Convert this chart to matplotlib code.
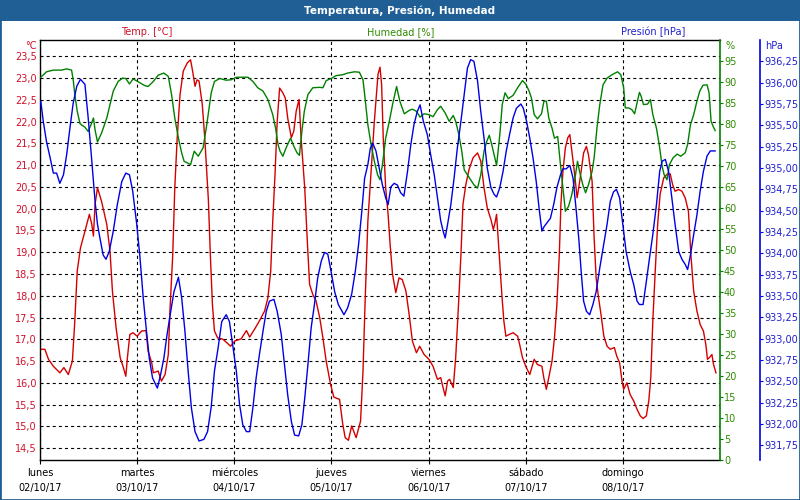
import matplotlib
matplotlib.use("Agg")
import matplotlib.pyplot as plt
from matplotlib.patches import Rectangle
from matplotlib.ticker import FixedLocator, FuncFormatter

# ---------------- data ----------------
day_names = ["lunes", "martes", "miércoles", "jueves", "viernes", "sábado", "domingo"]
day_dates = ["02/10/17", "03/10/17", "04/10/17", "05/10/17", "06/10/17", "07/10/17", "08/10/17"]

temp_hours = [0.4,1.2,2.1,3.3,4.9,5.9,7.0,8.0,8.6,9.2,10.0,11.1,12.2,12.8,13.2,13.6,14.2,15.2,16.5,17.3,17.9,18.8,19.8,20.6,21.2,21.6,22.2,23.0,24.0,25.1,26.2,26.7,27.6,28.0,29.2,30.0,30.9,31.7,32.1,32.8,33.3,33.9,34.6,35.4,36.4,37.2,37.7,38.3,38.8,39.3,40.1,40.7,41.6,42.1,42.6,43.1,43.9,45.2,47.1,48.1,49.7,51.0,51.8,53.0,54.2,55.5,56.3,57.0,57.5,58.1,58.6,59.2,60.0,60.6,61.2,62.1,62.7,63.3,64.0,64.5,65.4,66.0,66.6,67.4,68.2,69.1,69.9,70.7,71.8,72.6,74.0,74.8,75.4,76.2,77.0,78.1,79.2,79.8,80.3,81.0,81.8,82.6,83.5,84.0,84.4,84.8,85.4,86.0,86.5,87.1,87.9,88.7,89.5,90.4,91.2,92.0,93.0,93.8,94.9,96.1,97.1,98.2,99.0,99.4,100.1,100.7,101.2,102.1,102.7,103.4,104.0,104.5,105.2,106.0,107.0,108.1,108.9,109.7,110.5,111.4,112.0,112.4,112.8,113.4,114.1,114.6,115.1,115.9,116.9,118.0,118.5,119.2,120.0,121.0,121.5,122.1,122.9,124.0,124.5,125.1,125.7,126.5,127.1,127.7,128.3,128.7,129.2,129.8,130.4,130.9,131.4,132.0,132.7,133.1,133.7,134.3,135.0,135.5,136.4,136.9,137.4,138.0,138.6,139.3,140.1,140.9,141.9,142.5,143.2,143.8,144.2,145.0,145.8,146.7,147.5,148.3,149.0,149.8,150.4,150.9,151.4,152.0,152.6,153.2,154.1,154.9,155.7,156.3,156.9,157.8,158.6,159.4,160.2,160.8,161.5,162.3,163.1,163.9,164.5,164.9,165.4,166.0,166.4,167.0]
temp_values = [16.77,16.77,16.54,16.38,16.23,16.35,16.19,16.5,17.42,18.57,19.1,19.48,19.87,19.64,19.37,20.1,20.48,20.17,19.64,19.02,18.1,17.26,16.58,16.35,16.15,16.58,17.11,17.15,17.07,17.19,17.2,16.73,16.46,16.23,16.27,16.04,16.19,16.65,17.65,18.95,20.48,21.63,22.62,23.16,23.35,23.42,23.16,22.81,22.96,22.93,22.39,21.63,20.2,18.9,17.8,17.19,17.03,17.0,16.84,16.96,17.01,17.2,17.05,17.23,17.42,17.65,17.95,18.57,19.71,20.86,22.0,22.77,22.66,22.54,22.08,21.63,21.78,22.24,22.51,21.63,20.48,19.33,18.26,18.03,17.88,17.5,17.03,16.5,15.96,15.67,15.62,15.05,14.74,14.68,15.01,14.74,15.12,16.27,17.8,19.71,20.86,22.0,23.08,23.25,22.85,21.63,20.48,19.87,19.18,18.49,18.07,18.41,18.37,18.11,17.57,16.96,16.69,16.84,16.65,16.54,16.38,16.08,16.12,15.96,15.7,16.04,16.08,15.89,16.58,17.8,18.95,20.1,20.55,20.9,21.17,21.28,21.09,20.48,20.02,19.75,19.52,19.67,19.87,19.02,18.03,17.42,17.07,17.11,17.15,17.07,16.88,16.58,16.38,16.19,16.35,16.54,16.42,16.38,16.1,15.85,16.12,16.5,17.03,17.8,18.95,20.1,20.86,21.4,21.63,21.7,21.32,20.86,20.25,20.48,20.86,21.28,21.43,21.24,20.63,19.33,18.41,17.95,17.57,17.07,16.84,16.77,16.81,16.61,16.46,16.04,15.85,16.0,15.73,15.58,15.39,15.24,15.18,15.24,15.58,16.12,17.42,18.57,19.64,20.33,20.71,20.79,20.8,20.55,20.4,20.44,20.4,20.25,19.94,18.95,18.1,17.65,17.34,17.19,16.88,16.54,16.58,16.65,16.42,16.23]

hum_hours = [0.2,1.6,3.3,5.3,6.6,7.8,8.2,8.6,9.2,9.9,11.1,11.9,12.6,13.2,13.6,14.2,15.2,16.5,17.3,18.1,19.3,20.4,21.2,22.1,23.0,24.3,25.9,26.7,28.0,29.2,30.6,31.7,32.5,33.3,34.2,35.0,35.6,37.2,38.1,39.1,40.3,41.2,42.3,43.1,44.4,46.0,47.2,48.5,51.4,52.6,53.8,55.1,56.3,57.5,58.2,58.8,59.3,60.0,60.8,61.9,62.7,63.5,64.1,64.7,65.3,66.2,67.4,69.1,69.9,70.7,71.9,73.2,74.8,76.0,77.7,78.9,79.8,80.3,81.0,81.8,82.6,83.4,84.0,84.6,85.4,86.3,87.1,88.1,88.9,90.0,91.2,92.0,93.0,93.9,94.9,96.1,97.1,98.2,99.0,100.1,101.1,102.1,102.7,103.5,104.2,104.8,105.3,106.4,107.2,108.1,108.9,109.7,110.4,111.0,111.8,112.8,113.6,114.2,114.9,115.7,116.9,118.0,119.2,120.0,120.8,121.4,122.1,122.9,123.9,124.5,125.1,125.7,126.5,127.1,127.9,128.5,129.2,129.8,130.6,131.4,132.3,132.8,133.3,134.1,134.8,135.5,136.4,136.9,137.6,138.3,139.1,140.1,141.3,142.7,143.5,144.2,144.6,145.4,146.2,146.9,147.5,148.1,148.5,149.1,150.1,150.8,151.4,152.3,153.1,153.7,154.2,154.9,155.5,156.4,157.4,158.3,159.4,160.0,160.7,161.5,162.3,163.0,163.8,164.8,165.3,165.8,166.4,166.8]
hum_values = [91.2,92.5,92.9,92.9,93.2,92.9,90.6,87.1,83.1,80.1,79.3,78.3,79.9,81.5,78.7,75.8,77.9,81.5,84.7,87.9,90.2,91.0,90.9,89.6,90.8,90.1,89.2,89.0,90.2,91.7,92.2,91.4,87.1,81.5,76.7,73.2,71.2,70.4,73.6,72.4,74.4,79.9,87.5,90.2,90.9,90.5,90.6,91.2,91.2,90.2,88.7,87.9,85.9,82.3,79.1,75.2,73.6,72.4,74.4,76.7,74.8,73.2,72.6,78.3,83.1,87.1,88.7,88.8,88.7,90.4,90.9,91.6,91.8,92.2,92.5,92.4,90.6,86.3,79.9,75.2,71.2,68.0,66.8,70.4,76.7,80.7,84.7,89.0,85.5,82.5,83.3,83.6,83.1,81.7,82.5,82.3,81.8,83.5,84.3,82.7,80.7,82.1,80.7,77.5,73.6,69.2,68.4,66.8,65.6,64.8,68.0,73.6,76.0,77.4,74.4,70.2,77.5,84.7,87.5,86.1,86.9,88.7,90.4,89.6,88.0,86.3,82.3,81.3,82.5,85.5,85.5,81.5,79.1,76.7,77.1,71.2,64.8,59.3,60.5,63.3,68.0,71.2,68.8,65.6,63.7,65.6,68.8,72.0,79.1,84.7,89.4,91.0,91.8,92.5,91.8,88.7,83.9,83.9,83.5,82.5,85.1,87.6,86.7,84.7,84.8,85.9,82.3,79.1,74.4,70.0,68.0,66.8,70.4,72.0,72.9,72.4,73.2,75.2,79.9,82.3,85.5,87.9,89.3,89.4,87.5,80.7,79.3,78.5]

pres_hours = [0.2,0.8,1.6,2.5,3.3,4.1,4.9,5.8,6.6,7.4,8.2,9.1,10.0,11.1,11.9,12.8,13.6,14.2,14.8,15.6,16.3,17.1,18.1,19.1,20.2,21.2,22.1,22.9,23.9,24.7,25.5,26.3,27.0,27.8,29.0,29.8,30.6,31.4,32.3,33.1,34.2,35.0,35.8,36.6,37.4,38.3,39.3,40.5,41.4,42.3,43.1,44.0,44.9,46.0,46.8,47.7,48.5,49.3,50.1,51.0,51.8,52.6,53.4,54.2,55.1,55.9,56.7,57.8,58.6,59.6,60.4,61.2,62.1,62.9,63.9,64.7,65.4,66.2,67.0,67.8,68.6,69.5,70.3,71.1,71.9,72.8,73.7,75.1,76.0,77.0,77.9,78.7,79.5,80.2,81.0,81.6,82.2,83.0,83.8,84.6,85.4,86.0,86.7,87.5,88.3,89.1,89.9,90.8,91.6,92.4,93.2,93.9,94.7,95.7,96.5,97.4,98.2,99.0,99.6,100.1,100.7,101.5,102.3,103.1,104.0,104.8,105.6,106.4,107.2,108.1,108.9,109.7,110.5,111.4,112.2,112.8,113.6,114.4,115.2,116.0,116.9,117.7,118.8,119.4,120.2,121.0,121.8,122.6,123.3,124.0,124.5,125.3,126.1,126.9,127.7,128.6,129.2,130.0,130.9,131.7,132.5,133.1,133.7,134.3,135.0,135.8,136.6,137.4,138.3,139.1,140.1,140.9,141.7,142.4,143.2,144.0,144.8,145.8,146.7,147.5,148.1,149.0,149.8,150.6,151.4,152.3,153.1,153.7,154.5,155.3,156.1,156.9,157.8,158.6,159.4,160.0,160.7,161.5,162.3,163.1,163.9,164.8,165.6,166.8]
pres_values = [935.78,935.55,935.31,935.12,934.94,934.94,934.82,934.92,935.16,935.47,935.76,935.96,936.04,935.98,935.59,935.08,934.61,934.34,934.18,933.98,933.93,934.02,934.26,934.57,934.84,934.94,934.92,934.73,934.34,933.95,933.48,933.09,932.77,932.54,932.42,932.58,932.77,933.05,933.32,933.55,933.72,933.48,933.09,932.62,932.19,931.91,931.80,931.82,931.91,932.2,932.62,932.89,933.20,933.28,933.20,932.89,932.62,932.23,931.99,931.91,931.91,932.19,932.54,932.81,933.09,933.32,933.44,933.46,933.32,933.05,932.70,932.34,932.03,931.87,931.86,931.99,932.30,932.70,933.13,933.40,933.71,933.91,934.01,933.99,933.79,933.55,933.40,933.28,933.36,933.52,933.79,934.10,934.49,934.88,935.04,935.23,935.29,935.2,935.0,934.80,934.65,934.57,934.78,934.82,934.80,934.71,934.67,934.96,935.27,935.51,935.66,935.74,935.55,935.39,935.16,934.92,934.65,934.38,934.26,934.18,934.34,934.57,934.88,935.23,935.55,935.86,936.17,936.27,936.25,936.02,935.66,935.35,935.0,934.77,934.69,934.66,934.77,934.96,935.20,935.39,935.59,935.70,935.75,935.70,935.55,935.35,935.12,934.84,934.53,934.26,934.31,934.36,934.41,934.57,934.77,934.92,934.99,934.99,935.03,934.88,934.49,934.18,933.79,933.44,933.32,933.28,933.40,933.55,933.83,934.06,934.34,934.61,934.72,934.75,934.65,934.34,934.02,933.79,933.63,933.44,933.40,933.40,933.67,933.95,934.22,934.57,934.96,935.08,935.10,934.96,934.65,934.34,934.02,933.93,933.87,933.81,933.98,934.22,934.45,934.73,934.96,935.14,935.20,935.20]

temp_ticks = [14.5 + 0.5 * i for i in range(19)]
hum_ticks = list(range(0, 100, 5))
pres_ticks = [931.75 + 0.25 * i for i in range(19)]

# ---------------- style ----------------
plt.rcParams['font.family'] = ['DejaVu Sans']
plt.rcParams['lines.scale_dashes'] = False
FS = 7
BAR = '#1f5f96'
RED_L, RED_T = '#d40000', '#d0102a'
GRN_L, GRN_T = '#008000', '#2e8b00'
BLU_L, BLU_T = '#0000e6', '#2020d0'
DASH = (0, (2.2, 2.2))
PX = 72 / 100  # points per pixel

W, H = 800, 500
fig = plt.figure(figsize=(8, 5), dpi=100)
fig.patch.set_facecolor('white')

# title bar and border
fig.patches.append(Rectangle((0, 1 - 21 / H), 1, 21 / H, transform=fig.transFigure,
                             facecolor=BAR, edgecolor='none', zorder=0))
fig.patches.append(Rectangle((0, 0), 1, 1, transform=fig.transFigure,
                             facecolor='none', edgecolor=BAR, lw=2, zorder=5))
fig.text(0.5, 1 - 10.5 / H, "Temperatura, Presión, Humedad", color='white',
         fontsize=FS + 0.5, fontweight='bold', ha='center', va='center')

x0, x1, ytop, ybot = 40, 720, 40, 460.3
ax = fig.add_axes([x0 / W, 1 - ybot / H, (x1 - x0) / W, (ybot - ytop) / H])
ax2 = ax.twinx()
ax3 = ax.twinx()

# temperature
ax.plot(temp_hours, temp_values, color=RED_L, lw=1.0, zorder=3)
ax.set_xlim(0, 168)
ax.set_ylim(14.22, 23.874)
ax.yaxis.set_major_locator(FixedLocator(temp_ticks))
ax.yaxis.set_major_formatter(FuncFormatter(lambda v, p: f"{v:.1f}".replace('.', ',')))
ax.tick_params(axis='y', length=0, pad=3 * PX, labelcolor=RED_T, labelsize=FS)
ax.set_xticks([24 * i for i in range(7)])
ax.set_xticklabels([f"{n}\n{d}" for n, d in zip(day_names, day_dates)], linespacing=1.55)
ax.tick_params(axis='x', length=4 * PX, width=0.8, direction='out', pad=4 * PX, labelsize=FS, colors='black')
ax.grid(True, which='major', axis='both', color='black', lw=0.8, linestyle=DASH)
for s in ['left', 'bottom', 'top']:
    ax.spines[s].set_color('black')
    ax.spines[s].set_linewidth(1.0)
ax.spines['right'].set_visible(False)

# humidity
ax2.plot(hum_hours, hum_values, color=GRN_L, lw=1.0, zorder=3)
ax2.set_ylim(0, 100.07)
ax2.yaxis.set_major_locator(FixedLocator(hum_ticks))
ax2.tick_params(axis='y', length=3 * PX, width=0.8, colors=GRN_L, labelcolor=GRN_T, pad=1 * PX, labelsize=FS)
for s in ['left', 'bottom', 'top']:
    ax2.spines[s].set_visible(False)
ax2.spines['right'].set_color(GRN_L)
ax2.spines['right'].set_linewidth(1.2)

# pressure
ax3.plot(pres_hours, pres_values, color=BLU_L, lw=1.0, zorder=3)
ax3.set_ylim(931.574, 936.50)
ax3.yaxis.set_major_locator(FixedLocator(pres_ticks))
ax3.yaxis.set_major_formatter(FuncFormatter(lambda v, p: f"{v:.2f}".replace('.', ',')))
ax3.tick_params(axis='y', length=3 * PX, width=0.8, colors=BLU_L, labelcolor=BLU_T, pad=1 * PX, labelsize=FS)
for s in ['left', 'bottom', 'top']:
    ax3.spines[s].set_visible(False)
ax3.spines['right'].set_position(('outward', 40 * PX))
ax3.spines['right'].set_color(BLU_L)
ax3.spines['right'].set_linewidth(1.2)

# header labels
def ftext(x, y, s, c, ha='center'):
    fig.text(x / W, 1 - y / H, s, color=c, fontsize=FS, ha=ha, va='center')

ftext(147, 32, "Temp. [°C]", RED_T)
ftext(401, 32, "Humedad [%]", GRN_T)
ftext(653, 32, "Presión [hPa]", BLU_T)
ftext(37, 46, "°C", RED_T, ha='right')
ftext(726, 46, "%", GRN_T, ha='left')
ftext(765, 46, "hPa", BLU_T, ha='left')

fig.savefig("out.png", dpi=100)
